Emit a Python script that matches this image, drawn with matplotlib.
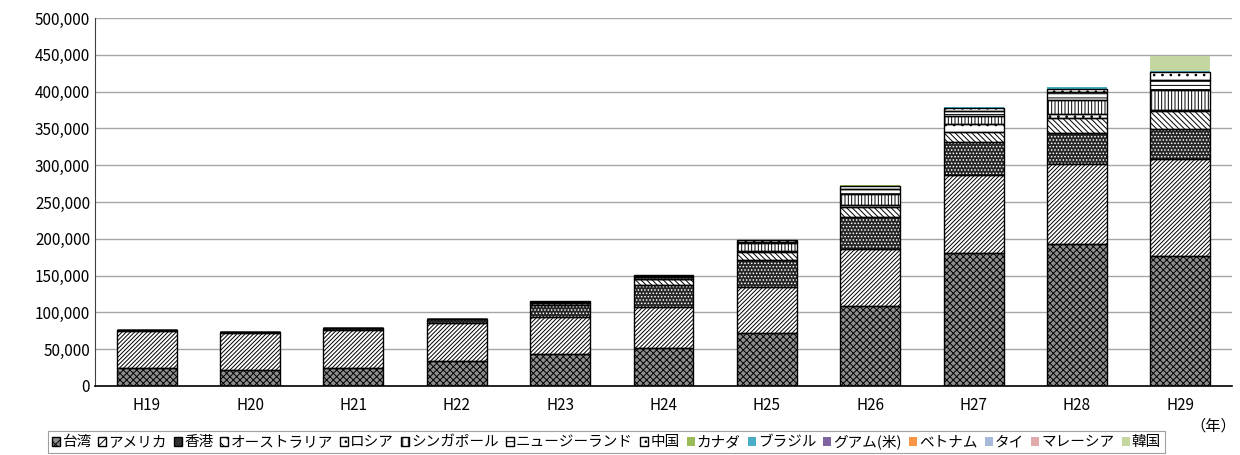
import matplotlib
matplotlib.use('Agg')
import matplotlib.pyplot as plt
from matplotlib.patches import Patch
from matplotlib.ticker import StrMethodFormatter
import numpy as np

plt.rcParams['font.family'] = ['Noto Sans CJK JP', 'DejaVu Sans']
plt.rcParams['hatch.linewidth'] = 0.7

# 年度
years = ['H19', 'H20', 'H21', 'H22', 'H23', 'H24', 'H25', 'H26', 'H27', 'H28', 'H29']

# 国・地域別（積み上げ、下から）
taiwan    = [24000, 22000, 24000, 34000, 43000, 51500, 72500, 108500, 181000, 193000, 176500]
america   = [50500, 49500, 52000, 52000, 51000, 56000, 62500, 78000, 105500, 108000, 131500]
hongkong  = [1000, 1500, 2500, 4500, 16000, 29500, 36000, 43000, 45500, 43000, 41000]
australia = [300, 300, 300, 300, 2500, 8000, 11500, 14000, 13500, 20000, 25000]
russia    = [0, 0, 0, 0, 300, 500, 1500, 2000, 10000, 6000, 1000]
singapore = [200, 200, 200, 300, 1000, 3000, 10000, 16000, 11000, 18000, 27000]
nz        = [200, 200, 200, 200, 700, 1500, 2000, 6000, 7000, 12000, 14000]
china     = [100, 100, 100, 100, 500, 1000, 2000, 4000, 4000, 4000, 10000]
canada    = [300, 100, 100, 100, 100, 300, 1000, 1000, 600, 200, 300]
brazil    = [0, 0, 0, 0, 0, 0, 0, 200, 300, 1500, 1500]
guam      = [0, 0, 0, 0, 0, 0, 0, 0, 100, 300, 200]
vietnam   = [0, 0, 0, 0, 0, 0, 0, 0, 100, 200, 200]
thai      = [0, 0, 0, 0, 0, 0, 0, 0, 100, 200, 200]
malaysia  = [0, 0, 0, 0, 0, 0, 0, 0, 100, 200, 200]
korea     = [0, 0, 0, 0, 0, 0, 0, 0, 100, 300, 20000]

names = ['台湾', 'アメリカ', '香港', 'オーストラリア', 'ロシア', 'シンガポール',
         'ニュージーランド', '中国', 'カナダ', 'ブラジル', 'グアム(米)', 'ベトナム',
         'タイ', 'マレーシア', '韓国']
data = [taiwan, america, hongkong, australia, russia, singapore, nz, china,
        canada, brazil, guam, vietnam, thai, malaysia, korea]

# 塗り, ハッチ, ハッチ色
faces = ['#8e8e8e', 'white', '#262626', 'white', 'white', 'white', 'white', 'white',
         '#9bbb59', '#4bacc6', '#8064a2', '#f79646', '#a7b9d9', '#e0aaaa', '#c4d7a0']
hatches = ['xxxxx', '////////', '.....', '\\\\\\\\\\\\', '..', '|||||', '----', '..',
           None, None, None, None, None, None, None]
hcols = ['black', 'black', 'white', 'black', 'black', 'black', 'black', 'black',
         None, None, None, None, None, None, None]

fig = plt.figure(figsize=(12.4, 4.55), dpi=100)
ax = fig.add_axes([95/1240, 69/455, 1137/1240, 368/455])

x = np.arange(len(years))
w = 0.58
bottom = np.zeros(len(years))
handles = []
for i, name in enumerate(names):
    vals = np.array(data[i], dtype=float)
    if hatches[i] is not None:
        ax.bar(x, vals, w, bottom=bottom, color=faces[i], edgecolor=hcols[i],
               hatch=hatches[i], linewidth=0, zorder=2)
        ax.bar(x, vals, w, bottom=bottom, fill=False, edgecolor='black',
               linewidth=1.0, zorder=3)
        if hcols[i] == 'white':
            handles.append(Patch(facecolor='#303030', edgecolor='black', linewidth=1))
        else:
            handles.append(Patch(facecolor=faces[i], edgecolor='black',
                                 hatch=hatches[i][:3], linewidth=1))
    else:
        ax.bar(x, vals, w, bottom=bottom, color=faces[i], linewidth=0, zorder=2)
        handles.append(Patch(facecolor=faces[i], linewidth=0))
    bottom += vals

ax.set_xlim(-0.5, len(years) - 0.5)
ax.set_ylim(0, 500000)
ax.set_yticks(np.arange(0, 500001, 50000))
ax.yaxis.set_major_formatter(StrMethodFormatter('{x:,.0f}'))
ax.set_xticks(x)
ax.set_xticklabels(years)
ax.tick_params(axis='both', length=0, labelsize=11)
ax.tick_params(axis='x', pad=8)
ax.grid(axis='y', color='#a6a6a6', linewidth=1)
ax.set_axisbelow(True)
for s in ['top', 'right']:
    ax.spines[s].set_visible(False)
ax.spines['left'].set_color('#404040')
ax.spines['bottom'].set_color('black')
ax.spines['bottom'].set_linewidth(1.2)

fig.text(1236/1240, 29/455, '（年）', ha='right', va='center', fontsize=11)

leg = fig.legend(handles, names, loc='center left', bbox_to_anchor=(48/1240, 13/455),
                 ncol=15, fontsize=10.5, frameon=True, fancybox=False,
                 handlelength=0.55, handleheight=0.55, handletextpad=0.15,
                 columnspacing=0.48, borderpad=0.25, borderaxespad=0)
leg.get_frame().set_edgecolor('#888888')
leg.get_frame().set_linewidth(0.8)

fig.savefig('out.png', dpi=100)
